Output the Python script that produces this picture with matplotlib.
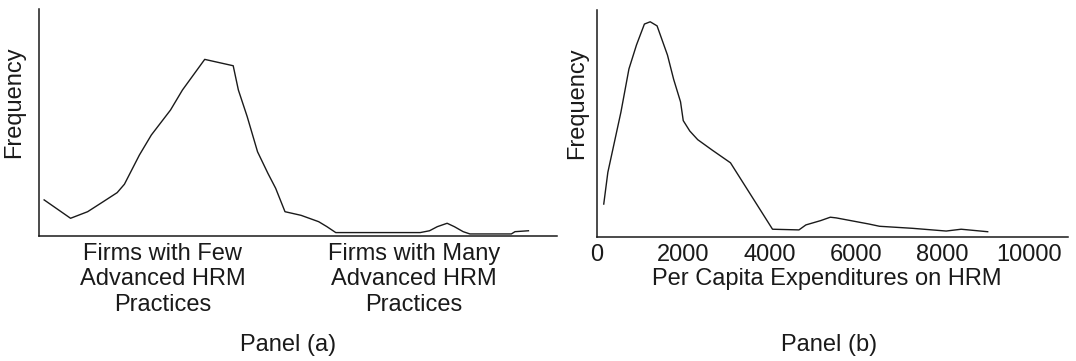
import numpy as np
import matplotlib
matplotlib.use('Agg')
import matplotlib.pyplot as plt

plt.rcParams['font.family'] = ['Liberation Sans', 'DejaVu Sans']

# Panel (a): frequency vs. HRM practice intensity (arbitrary 0-100 scale)
a_x = [1.0, 6.1, 9.4, 12.4, 15.1, 16.5, 19.4, 21.7, 25.4, 27.7, 32.0, 37.5,
       38.5, 40.2, 42.2, 44.2, 45.7, 47.5, 50.6, 54.0, 55.6, 57.3, 73.6, 75.4,
       76.9, 78.8, 80.2, 81.9, 83.2, 91.2, 91.9, 94.5]
a_y = [15.9, 7.8, 10.7, 15.1, 19.1, 22.8, 35.7, 44.5, 55.5, 64.3, 77.8, 75.0,
       64.3, 52.6, 37.1, 27.6, 21.0, 10.7, 9.1, 6.3, 4.1, 1.5, 1.5, 2.3,
       4.1, 5.6, 4.1, 1.9, 0.9, 0.9, 1.9, 2.3]
a_tick_pos = [23.9, 72.4]
a_tick_labels = ["Firms with Few\nAdvanced HRM\nPractices",
                 "Firms with Many\nAdvanced HRM\nPractices"]

# Panel (b): frequency vs. per capita expenditures on HRM
b_x = [157, 252, 555, 740, 915, 1098, 1232, 1391, 1632, 1775, 1934, 1997,
       2149, 2332, 2667, 3090, 4063, 4675, 4835, 5177, 5401, 5537, 6293,
       6540, 7303, 8082, 8429, 9043]
b_y = [14.4, 28.4, 55.0, 74.0, 84.6, 93.8, 94.8, 93.0, 80.1, 69.4, 59.5, 51.2,
       46.6, 42.8, 38.2, 32.6, 3.3, 3.0, 5.2, 7.1, 8.6, 8.3, 5.6,
       4.6, 3.7, 2.5, 3.3, 2.2]
b_ticks = [0, 2000, 4000, 6000, 8000, 10000]

FS = 17
INK = '#1a1a1a'

fig = plt.figure(figsize=(10.76, 3.61), dpi=100)
ax_a = fig.add_axes([0.0362, 0.3463, 0.4814, 0.6288])
ax_b = fig.add_axes([0.5548, 0.3443, 0.4377, 0.6280])

ax_a.plot(a_x, a_y, color=INK, lw=1.0)
ax_a.set_xlim(0, 100)
ax_a.set_ylim(0, 100)
ax_a.set_xticks(a_tick_pos)
ax_a.set_xticklabels(a_tick_labels, fontsize=FS, color=INK, linespacing=1.2)
ax_a.set_yticks([])

ax_b.plot(b_x, b_y, color=INK, lw=1.0)
ax_b.set_xlim(0, 10900)
ax_b.set_ylim(0, 100)
ax_b.set_xticks(b_ticks)
ax_b.set_xticklabels([str(t) for t in b_ticks], fontsize=FS, color=INK)
ax_b.set_yticks([])
ax_b.set_xlabel("Per Capita Expenditures on HRM", fontsize=FS, color=INK)
ax_b.xaxis.set_label_coords(0.488, -0.215, transform=ax_b.transAxes)
ax_b.xaxis.label.set_va('baseline')

for ax, lx in ((ax_a, -0.027), (ax_b, -0.019)):
    for side in ('top', 'right'):
        ax.spines[side].set_visible(False)
    for side in ('left', 'bottom'):
        ax.spines[side].set_linewidth(1.1)
        ax.spines[side].set_color(INK)
    ax.tick_params(axis='x', length=0, pad=5)
    ax.set_ylabel("Frequency", fontsize=FS, color=INK)
    ax.yaxis.set_label_coords(lx, 0.59)

fig.text(288 / 1076, 10 / 361, "Panel (a)", fontsize=FS, color=INK,
         ha='center', va='baseline')
fig.text(829 / 1076, 10 / 361, "Panel (b)", fontsize=FS, color=INK,
         ha='center', va='baseline')

fig.savefig("out.png", dpi=100)
